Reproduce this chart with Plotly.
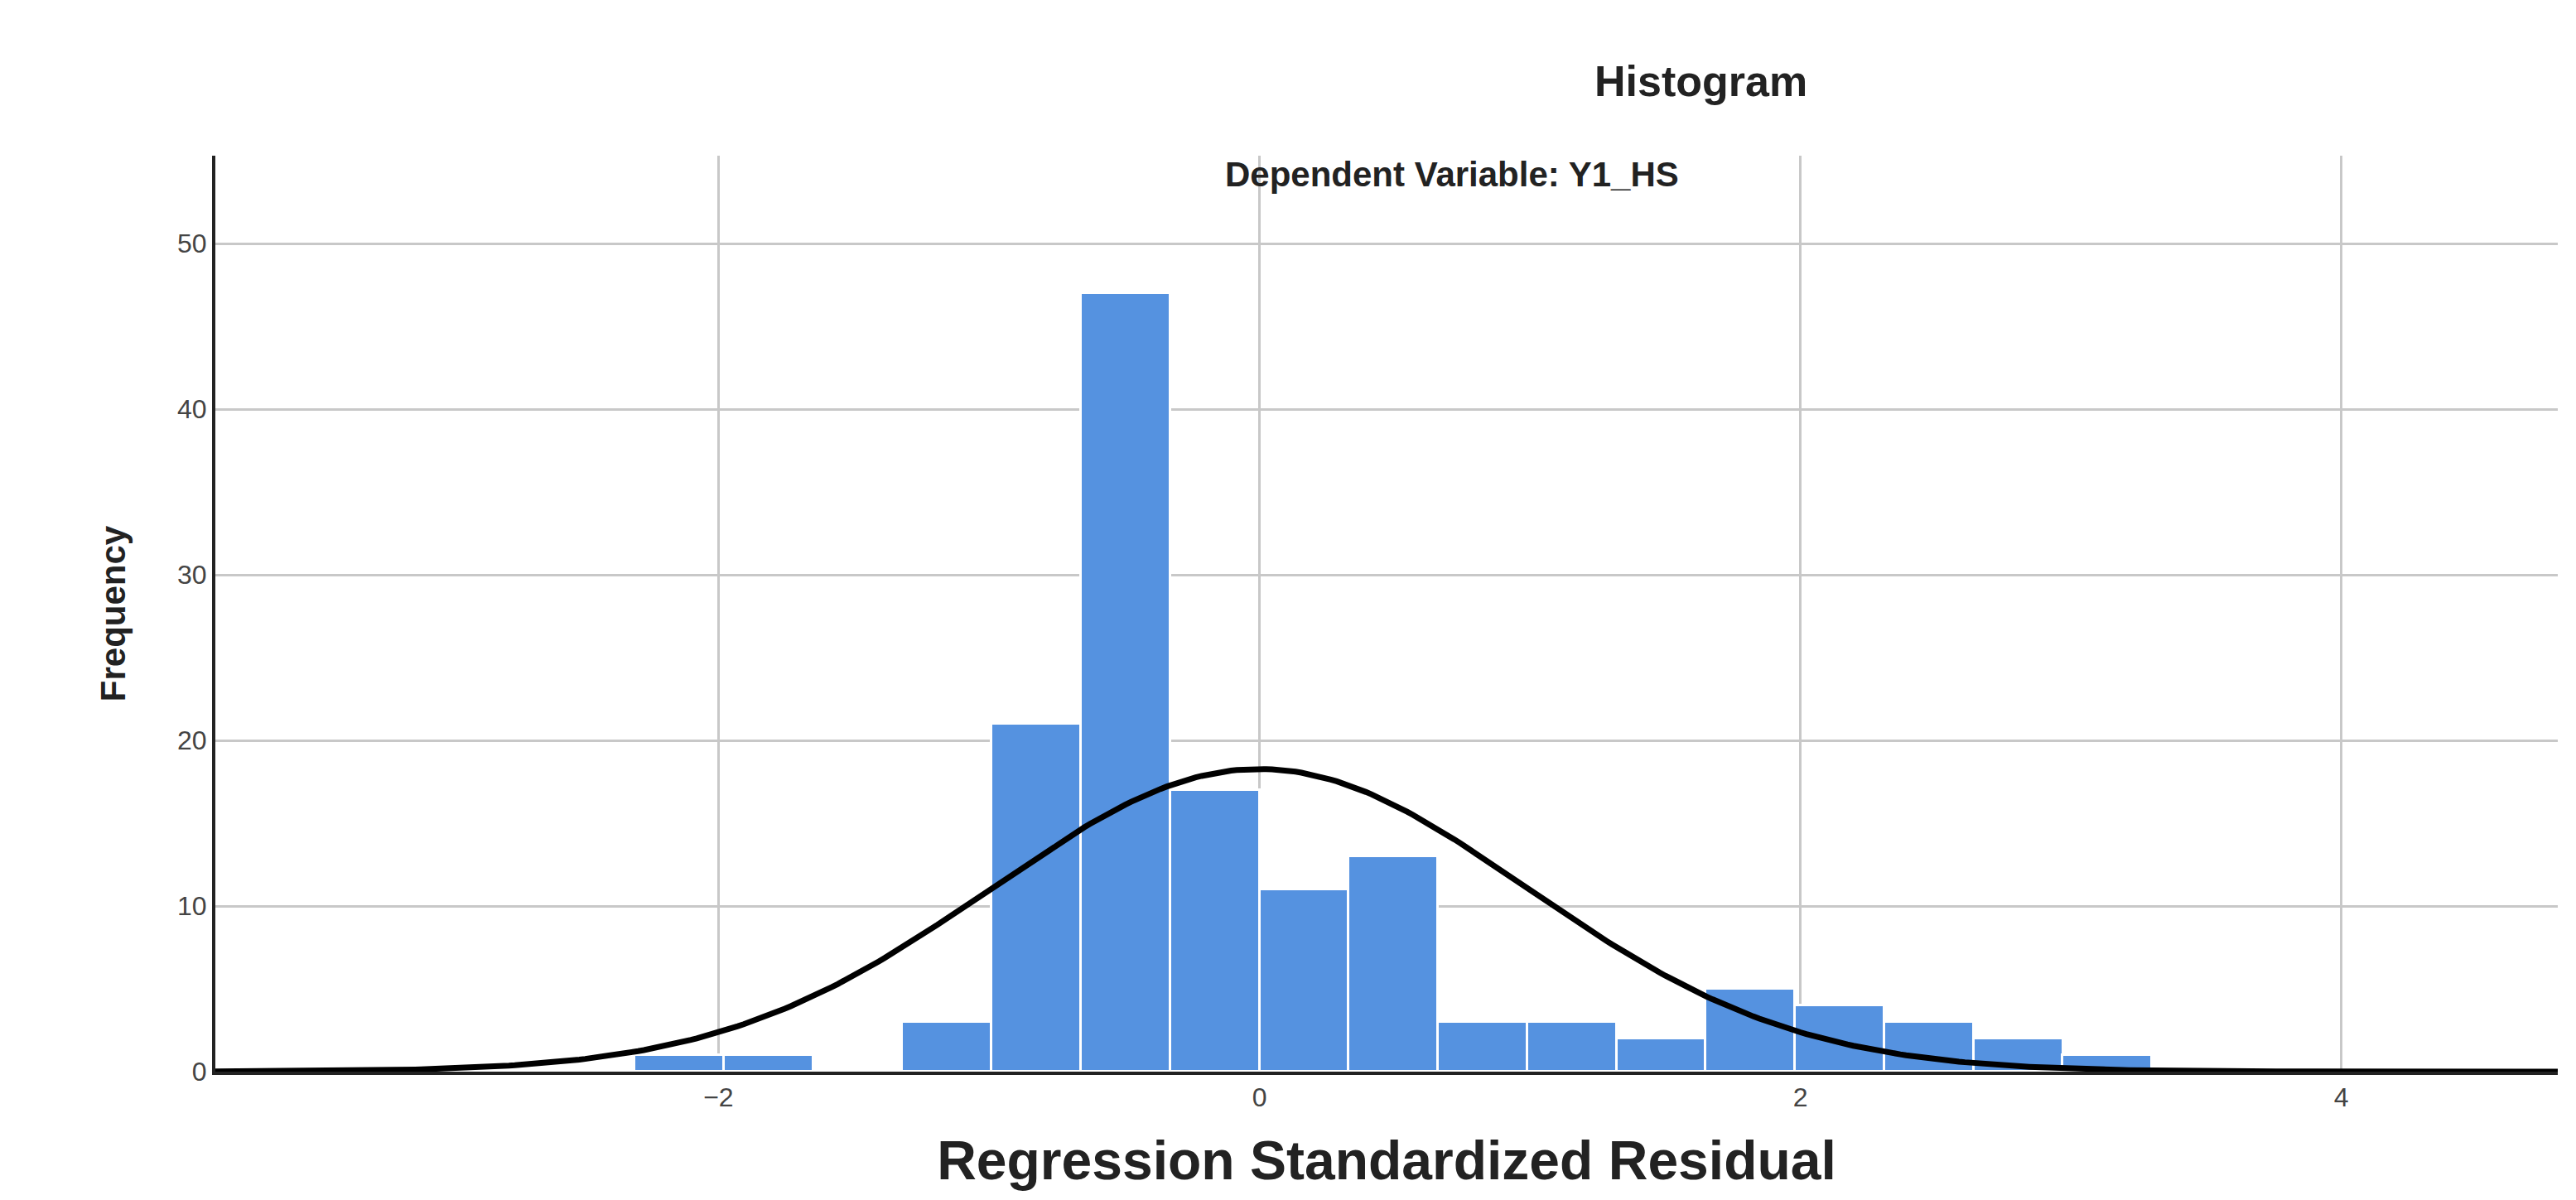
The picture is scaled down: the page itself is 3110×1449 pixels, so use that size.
import numpy as np
import plotly.graph_objects as go

bin_left = [-2.31, -1.98, -1.32, -0.99, -0.66, -0.33, 0.0, 0.33, 0.66, 0.99, 1.32, 1.65, 1.98, 2.31, 2.64, 2.97]
counts = [1, 1, 3, 21, 47, 17, 11, 13, 3, 3, 2, 5, 4, 3, 2, 1]
bin_width = 0.331
curve_mean = 0.0
curve_sd = 0.99
x_ticks = [-2, 0, 2, 4]
y_ticks = [0, 10, 20, 30, 40, 50]

n = sum(counts)
centers = [b + bin_width / 2 for b in bin_left]
xs = np.linspace(-3.86, 4.8, 400)
ys = n * bin_width / (np.sqrt(2 * np.pi) * curve_sd) * np.exp(-0.5 * ((xs - curve_mean) / curve_sd) ** 2)

L, R, T, B = 252, 30, 180, 163
plot_h = 1449 - T - B
plot_w = 3110 - L - R

fig = go.Figure()
fig.add_trace(go.Bar(x=centers, y=counts, width=bin_width,
                     marker=dict(color="#5592e0", line=dict(color="white", width=3))))
fig.add_trace(go.Scatter(x=xs, y=ys, mode="lines", line=dict(color="black", width=7)))

fig.update_layout(
    width=3110, height=1449, showlegend=False,
    paper_bgcolor="white", plot_bgcolor="white",
    margin=dict(l=L, r=R, t=T, b=B),
    font=dict(family="Liberation Sans, Arial", color="#333"),
    bargap=0,
    annotations=[
        dict(text="<b>Histogram</b>", x=(2045 - L) / plot_w, xref="paper",
             y=1 + 90 / plot_h, yref="paper", yanchor="middle",
             showarrow=False, font=dict(size=52, color="#222")),
        dict(text="<b>Dependent Variable: Y1_HS</b>", x=(1745 - L) / plot_w, xref="paper",
             y=1 - 22 / plot_h, yref="paper", yanchor="middle",
             showarrow=False, font=dict(size=42, color="#222")),
    ],
)

fig.update_xaxes(range=[-3.86, 4.8], tickvals=x_ticks, showgrid=True, gridcolor="#c8c8c8", gridwidth=3,
                 showline=True, linecolor="#222", linewidth=4, ticks="", zeroline=False,
                 tickfont=dict(size=32, color="#444"),
                 title=dict(text="<b>Regression Standardized Residual</b>", font=dict(size=66, color="#222"), standoff=36))
fig.update_yaxes(range=[0, 55.3], tickvals=y_ticks, showgrid=True, gridcolor="#c8c8c8", gridwidth=3,
                 showline=True, linecolor="#222", linewidth=4, ticks="", zeroline=False,
                 tickfont=dict(size=32, color="#444"),
                 title=dict(text="<b>Frequency</b>", font=dict(size=42, color="#222"), standoff=50))

fig.write_html("out.html")
